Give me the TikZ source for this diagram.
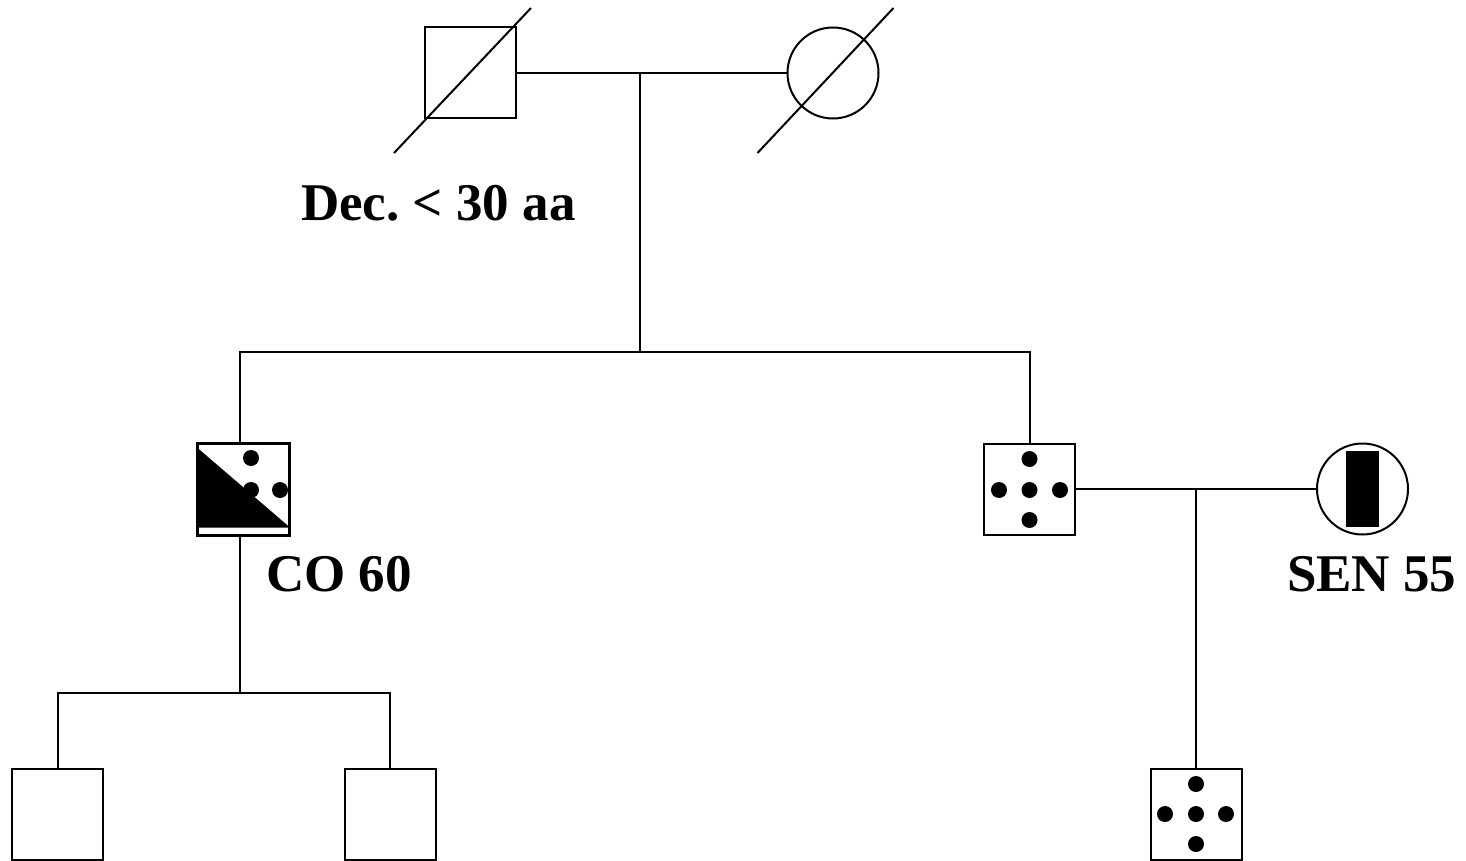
\documentclass[tikz,border=0pt]{standalone}
\usepackage{fontspec}
\setmainfont{Liberation Serif}
\usetikzlibrary{calc}
\frenchspacing
\begin{document}
\begin{tikzpicture}[x=1pt,y=-1pt,line width=2pt,
  sq/.style={draw,rectangle,minimum size=91pt,inner sep=0pt,fill=white},
  circ/.style={draw,circle,minimum size=91pt,inner sep=0pt,fill=white},
  dot/.style={fill=black,circle,inner sep=0pt,minimum size=16pt},
  lbl/.style={font=\bfseries\fontsize{53}{53}\selectfont,anchor=base west,inner sep=0pt}]
\useasboundingbox (0,0) rectangle (1466,861);
% generation I
\node[sq] (f) at (470,73) {};
\node[circ] (m) at (833,73) {};
\coordinate (c1) at (640,73);
\coordinate (s1) at (640,352);
\draw (f.east) -- (m.west);
\draw (c1) -- (s1);
\draw (394,153) -- (531,8);
\draw (757.5,153) -- (893.5,8);
\node[lbl] (t1) at (300,220) {Dec. < 30 aa};
% generation II
\node[sq] (a) at (243.5,489) {};
\node[sq] (b) at (1029.5,489) {};
\node[circ] (w) at (1362.5,489) {};
\coordinate (s2) at (240,693);
\draw (s2 |- a.north) |- (s1) -| (b.north);
% CO 60 symbol
\fill (a.north west) ++(0,5) -- ($(a.south east)+(0,-8)$) -- ($(a.south west)+(0,-8)$) -- cycle;
\node[dot] at (251,458) {};
\node[dot] at (251,490) {};
\node[dot] at (280,490) {};
\draw (a.north west) rectangle (a.south east);
\node[lbl] (t2) at (265,591) {CO 60};
% b dots
\node[dot] at (1029.5,459) {};
\node[dot] at (1029.5,490) {};
\node[dot] at (1029.5,520) {};
\node[dot] at (999,490) {};
\node[dot] at (1060,490) {};
% wife
\fill (1346,451) rectangle (1379,527);
\node[lbl] (t3) at (1286,591) {SEN 55};
\draw (b.east) -- (w.west);
\coordinate (c2) at (1196,489);
% generation III
\node[sq] (g1) at (57.5,814) {};
\node[sq] (g2) at (390,814) {};
\node[sq] (g3) at (1196,814) {};
\draw (s2 |- a.south) -- (s2);
\draw (g1.north) |- (s2) -| (g2.north);
\draw (c2) -- (g3.north);
\node[dot] at (1196,784) {};
\node[dot] at (1196,814) {};
\node[dot] at (1196,844) {};
\node[dot] at (1165,814) {};
\node[dot] at (1226,814) {};
\end{tikzpicture}
\end{document}
